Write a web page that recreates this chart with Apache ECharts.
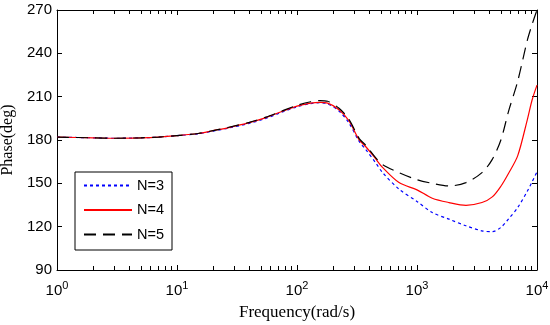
<!DOCTYPE html>
<html>
<head>
<meta charset="utf-8">
<script src="https://cdn.jsdelivr.net/npm/echarts@6/dist/echarts.min.js"></script>
<style>html,body{margin:0;padding:0;background:#fff;}#chart{width:550px;height:325px;}</style>
</head>
<body>
<div id="chart"></div>
<script>
// Frequencies (rad/s)
var freq = [1,2,3,5,7,10,15,20,27,40,55,71,100,130,155,180,224,270,330,373,450,516,708,1000,1340,1850,2560,3480,4240,5000,5800,6900,8300,9100,10000];
// Phase (deg)
var phaseN3 = [182,181.5,181.2,181.5,182,183,184.3,186.2,188.3,191.5,195,198.5,203,205.2,205.8,205,200,192,179,173.5,164.5,157.5,146,137.5,129.8,125.2,120.6,117.1,116.5,119.5,125.4,133.2,144.5,151,158];
var phaseN4 = [182,181.5,181.2,181.5,182,183,184.5,186.5,188.6,192,195.5,199,203.5,205.5,206,205.5,201,193.5,180,175.5,167.2,161,150.5,145.5,139.7,136.7,134.8,136.7,140.6,148,157,169,194,207.7,218];
var phaseN5 = [182,181.5,181.2,181.5,182,183,184.5,186.5,188.8,192.2,195.8,199.3,204,206.5,207.3,206.8,202,194.5,181,176.5,168,163,157.4,152.5,150,148.2,150.5,157.4,166.6,180,200,220.6,249,260,270];
var seriesNames = ['N=3','N=4','N=5'];
var xMajorTicks = [1,10,100,1000,10000];
var xMinorTicks = [2,3,4,5,6,7,8,9,20,30,40,50,60,70,80,90,200,300,400,500,600,700,800,900,2000,3000,4000,5000,6000,7000,8000,9000];
var xTickExponents = {1:'0',10:'1',100:'2',1000:'3',10000:'4'};
var yMin = 90, yMax = 270, yStep = 30;

function pairs(ys){ return freq.map(function(f,i){ return [f, ys[i]]; }); }

var chart = echarts.init(document.getElementById('chart'), null, {renderer:'canvas'});
var tickFont = 'Liberation Sans, Arial, sans-serif';
var nameFont = 'Liberation Serif, Times New Roman, serif';
function logAxis(pos, ticks, len, showLine, showLabel, extra){
  var a = {
    type:'log', logBase:10, min:1, max:10000, position:pos, gridIndex:0,
    axisLine:{show:showLine, onZero:false, lineStyle:{color:'#000', width:1}},
    axisTick:{show:true, inside:true, length:len, customValues:ticks, lineStyle:{color:'#000', width:1}},
    axisLabel:{show:showLabel},
    splitLine:{show:false}, minorTick:{show:false}
  };
  if (extra) for (var k in extra) a[k]=extra[k];
  return a;
}
var option = {
  backgroundColor:'#fff',
  animation:false,
  grid:{left:57, right:13, top:10, bottom:55, containLabel:false, outerBoundsMode:'none'},
  legend:{
    orient:'vertical', left:75, top:172, padding:[6,8,8,8],
    backgroundColor:'#fff', borderColor:'#000', borderWidth:1,
    itemWidth:48, itemHeight:14, itemGap:9.5, itemStyle:{opacity:0},
    textStyle:{fontFamily:tickFont, fontSize:14.5, color:'#000'},
    data:seriesNames
  },
  xAxis:[
    logAxis('bottom', xMajorTicks, 5, true, true, {
      name:'Frequency(rad/s)', nameLocation:'middle', nameGap:34,
      nameTextStyle:{fontFamily:nameFont, fontSize:17, color:'#000'},
      axisLabel:{show:true, customValues:xMajorTicks, margin:10, color:'#000',
        fontFamily:tickFont, fontSize:15,
        formatter:function(v){ return '10{sup|' + xTickExponents[Math.round(v)] + '}'; },
        rich:{sup:{fontFamily:tickFont, fontSize:11, color:'#000', padding:[0,0,10,0]}}
      }
    }),
    logAxis('bottom', xMinorTicks, 4, false, false),
    logAxis('top', xMajorTicks, 5, true, false),
    logAxis('top', xMinorTicks, 4, false, false)
  ],
  yAxis:[
    {type:'value', min:yMin, max:yMax, interval:yStep, position:'left',
     name:'Phase(deg)', nameLocation:'middle', nameGap:35,
     nameTextStyle:{fontFamily:nameFont, fontSize:16, color:'#000'},
     axisLine:{show:true, lineStyle:{color:'#000'}},
     axisTick:{show:true, inside:true, length:5, lineStyle:{color:'#000'}},
     axisLabel:{color:'#000', fontFamily:tickFont, fontSize:15, margin:5},
     splitLine:{show:false}},
    {type:'value', min:yMin, max:yMax, interval:yStep, position:'right',
     axisLine:{show:true, lineStyle:{color:'#000'}},
     axisTick:{show:true, inside:true, length:5, lineStyle:{color:'#000'}},
     axisLabel:{show:false}, splitLine:{show:false}}
  ],
  series:[
    {name:seriesNames[0], type:'line', data:pairs(phaseN3), symbol:'none', smooth:0.3, xAxisIndex:0, yAxisIndex:0,
     lineStyle:{color:'#0000ff', width:1.2, type:[3,3]}, itemStyle:{color:'#0000ff'}},
    {name:seriesNames[1], type:'line', data:pairs(phaseN4), symbol:'none', smooth:0.3, xAxisIndex:0, yAxisIndex:0,
     lineStyle:{color:'#ff0000', width:1.2, type:'solid'}, itemStyle:{color:'#ff0000'}},
    {name:seriesNames[2], type:'line', data:pairs(phaseN5), symbol:'none', smooth:0.3, xAxisIndex:0, yAxisIndex:0,
     lineStyle:{color:'#000000', width:1.2, type:[12,7]}, itemStyle:{color:'#000000'}}
  ]
};
chart.setOption(option);
</script>
</body>
</html>
